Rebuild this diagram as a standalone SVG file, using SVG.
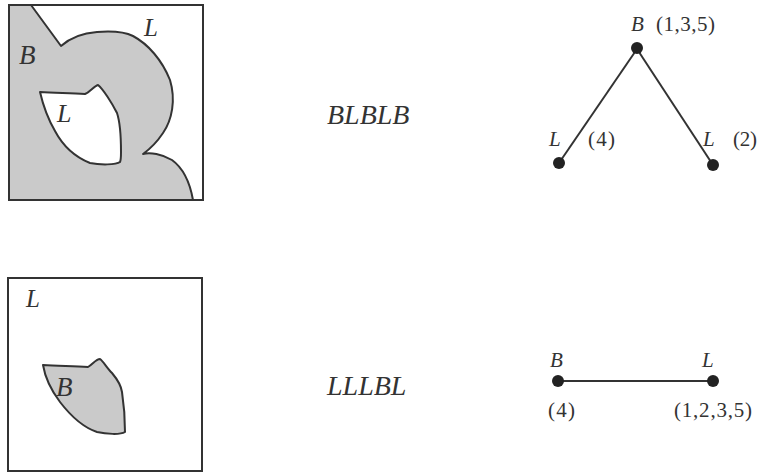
<svg xmlns="http://www.w3.org/2000/svg" width="758" height="474" viewBox="0 0 758 474">
<style>
.box{fill:none;stroke:#333;stroke-width:2}
.gray{fill:#cacaca;stroke:#333;stroke-width:2;stroke-linejoin:round}
.white{fill:#fff;stroke:#333;stroke-width:2;stroke-linejoin:round}
.lbl{font-family:"Liberation Serif","Times New Roman",serif;font-style:italic;fill:#333}
.num{font-family:"Liberation Serif","Times New Roman",serif;fill:#333;font-size:21px}
.edge{stroke:#333;stroke-width:2;fill:none}
.dot{fill:#222}
</style>
<rect width="758" height="474" fill="#fff"/>
<g id="panel1">
<path class="gray" d="M9,5 L31,5 L61,46 C70,38 83,33 97,32 C110,31 123,31 133,36 C148,44 162,60 170,80 C176,100 172,120 163,133 C157,142 150,149 143,154 C150,152 162,154 172,160 C183,168 190,183 193,200 L9,200 Z"/>
<path class="white" d="M40,92 C55,93 70,93 85,94 C90,92 94,86 98,85 C103,89 112,103 117,113 C120,122 121,140 121,152 C121,157 121,160 120,162 C116,165 100,165 90,163 C75,157 63,146 55,131 C48,119 43,105 40,92 Z"/>
<rect class="box" x="9" y="5" width="194" height="195"/>
<text class="lbl" x="19" y="64" font-size="27">B</text>
<text class="lbl" x="144" y="36" font-size="25">L</text>
<text class="lbl" x="57" y="122" font-size="26">L</text>
</g>
<g id="panel2">
<rect class="box" x="8" y="278" width="194" height="193"/>
<path class="gray" d="M43,365 C58,366 73,366 88,367 C93,364 96,359 100,359 C103,361 107,368 112,373 C117,379 121,385 122,392 C124,405 125,420 125,432 C120,435 106,434 97,432 C82,427 70,415 60,402 C51,390 45,377 43,365 Z"/>
<text class="lbl" x="26" y="307" font-size="25">L</text>
<text class="lbl" x="56" y="396" font-size="27">B</text>
</g>
<g id="seq1"><text class="lbl" x="327" y="124" font-size="28">BLBLB</text></g>
<g id="seq2"><text class="lbl" x="327" y="395" font-size="28">LLLBL</text></g>
<g id="connectors">
<line class="edge" x1="637" y1="49" x2="559" y2="163"/>
<line class="edge" x1="637" y1="49" x2="713" y2="165"/>
<line class="edge" x1="558" y1="381" x2="713" y2="381"/>
</g>
<g id="tree1-B"><circle class="dot" cx="637" cy="48" r="6"/><text class="lbl" x="631" y="31" font-size="21">B</text><text class="num" x="656" y="31" textLength="59" lengthAdjust="spacing">(1,3,5)</text></g>
<g id="tree1-L1"><circle class="dot" cx="559" cy="163" r="6"/><text class="lbl" x="549" y="146" font-size="21">L</text><text class="num" x="588" y="146" textLength="27" lengthAdjust="spacing">(4)</text></g>
<g id="tree1-L2"><circle class="dot" cx="713" cy="165" r="6"/><text class="lbl" x="703" y="146" font-size="21">L</text><text class="num" x="733" y="146" textLength="24" lengthAdjust="spacing">(2)</text></g>
<g id="tree2-B"><circle class="dot" cx="558" cy="381" r="6"/><text class="lbl" x="550" y="367" font-size="21">B</text><text class="num" x="548" y="417" textLength="27" lengthAdjust="spacing">(4)</text></g>
<g id="tree2-L"><circle class="dot" cx="713" cy="381" r="6"/><text class="lbl" x="702" y="367" font-size="21">L</text><text class="num" x="674" y="417" textLength="78" lengthAdjust="spacing">(1,2,3,5)</text></g>
</svg>
